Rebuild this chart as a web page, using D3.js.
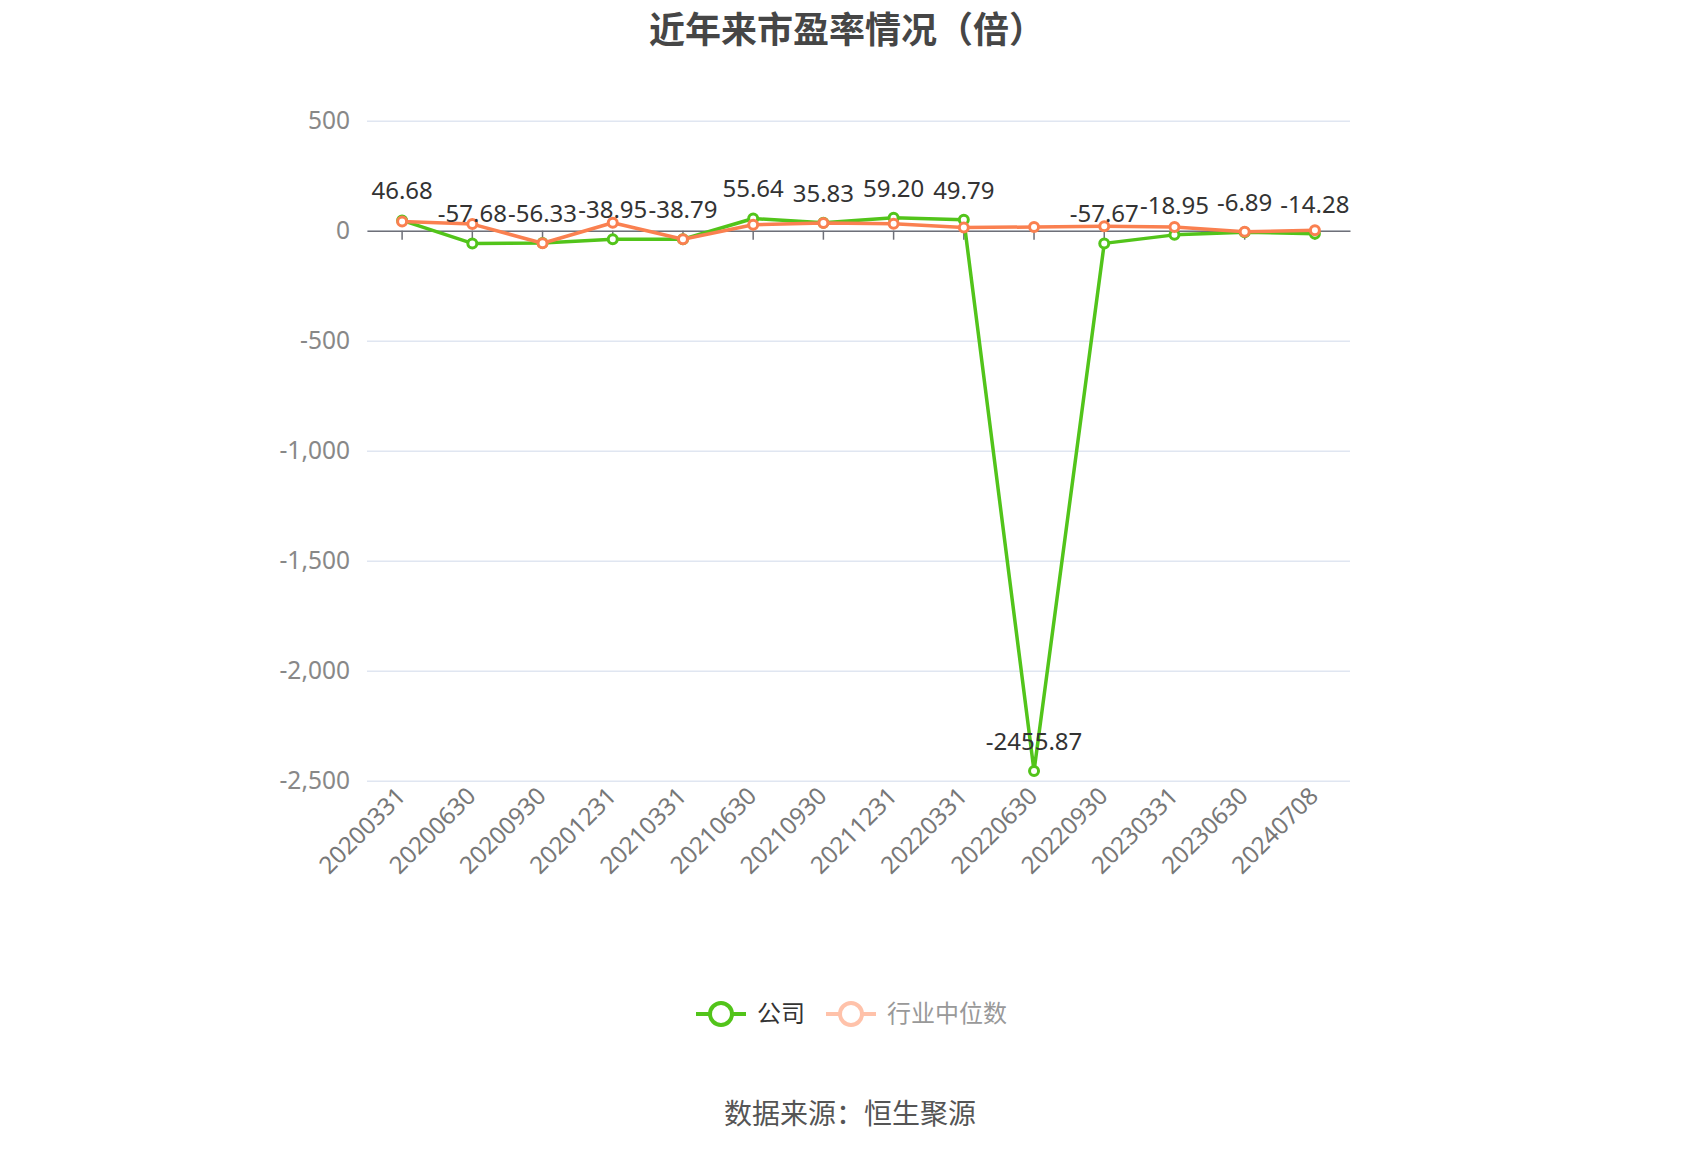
<!DOCTYPE html>
<html>
<head>
<meta charset="utf-8">
<script src="https://cdn.jsdelivr.net/npm/d3@7"></script>
<style>
  body { margin: 0; background: #fff; }
  svg { display: block; font-family: "Noto Sans CJK SC", "Noto Sans", sans-serif; }
</style>
</head>
<body>
<svg id="chart" width="1700" height="1150"></svg>
<script>
// report dates on the x axis
const dates = ["20200331", "20200630", "20200930", "20201231", "20210331", "20210630", "20210930",
  "20211231", "20220331", "20220630", "20220930", "20230331", "20230630", "20240708"];
// company P/E (labelled values)
const company = [46.68, -57.68, -56.33, -38.95, -38.79, 55.64, 35.83, 59.20, 49.79, -2455.87, -57.67, -18.95, -6.89, -14.28];
// industry median
const industry = [42, 30, -57, 36, -39, 27, 35, 32, 14, 17, 20, 17, -5, 2];
const yTicks = [500, 0, -500, -1000, -1500, -2000, -2500];
const seriesNames = ["公司", "行业中位数"];

const green = "#52c41a";
const orange = "#fa8050";

const svg = d3.select("#chart");
const plotLeft = 367, plotRight = 1350, plotTop = 120.7, plotBottom = 780.7;

const x = d3.scaleBand().domain(dates).range([plotLeft, plotRight]);
const y = d3.scaleLinear().domain([-2500, 500]).range([plotBottom, plotTop]);
const cx = d => x(d) + x.bandwidth() / 2;

const fmt = d3.formatLocale({decimal: ".", thousands: ",", grouping: [3], currency: ["", ""], minus: "-"}).format(",");

// title
svg.append("text")
  .attr("x", 847).attr("y", 43)
  .attr("text-anchor", "middle")
  .style("font-size", "36px").style("font-weight", "bold").style("fill", "#464646")
  .text("近年来市盈率情况（倍）");

// grid + y labels
const yAxis = svg.append("g")
  .attr("transform", "translate(" + plotLeft + ",0)")
  .call(d3.axisLeft(y).tickValues(yTicks).tickFormat(fmt).tickSize(-(plotRight - plotLeft)).tickPadding(17));
yAxis.select(".domain").remove();
yAxis.selectAll(".tick line").attr("stroke", "#e0e6f1").attr("stroke-width", 1.5);
yAxis.selectAll(".tick text").style("font-size", "24.5px").style("fill", "#888").style("font-family", "'Noto Sans', sans-serif");

// zero axis with ticks
const xAxis = svg.append("g")
  .attr("transform", "translate(0," + y(0) + ")")
  .call(d3.axisBottom(x).tickSize(9).tickSizeOuter(0).tickFormat(""));
xAxis.select(".domain").attr("stroke", "#6e7079").attr("stroke-width", 1.5);
xAxis.selectAll(".tick line").attr("stroke", "#6e7079").attr("stroke-width", 1.5);

// rotated category labels at the bottom
svg.append("g").selectAll("text")
  .data(dates)
  .enter()
  .append("text")
  .attr("transform", d => "translate(" + (cx(d) - 7) + "," + (plotBottom + 5) + ") rotate(-45)")
  .attr("text-anchor", "end")
  .attr("dy", "0.7em")
  .style("font-size", "24px").style("fill", "#777").style("font-family", "'Noto Sans', sans-serif")
  .text(d => d);

const line = d3.line().x((d, i) => cx(dates[i])).y(d => y(d));

function drawSeries(values, color) {
  svg.append("path")
    .datum(values)
    .attr("d", line)
    .attr("fill", "none")
    .attr("stroke", color)
    .attr("stroke-width", 3.5)
    .attr("stroke-linejoin", "round");
  svg.append("g").selectAll("circle")
    .data(values)
    .enter()
    .append("circle")
    .attr("cx", (d, i) => cx(dates[i]))
    .attr("cy", d => y(d))
    .attr("r", 4.5)
    .attr("fill", "#fff")
    .attr("stroke", color)
    .attr("stroke-width", 3);
}
drawSeries(company, green);
drawSeries(industry, orange);

// value labels for company series
svg.append("g").selectAll("text")
  .data(company)
  .enter()
  .append("text")
  .attr("x", (d, i) => cx(dates[i]))
  .attr("y", d => y(d) - 21)
  .attr("text-anchor", "middle")
  .style("font-size", "24px").style("fill", "#333").style("font-family", "'Noto Sans', sans-serif")
  .text(d => d.toFixed(2));

// legend
const legend = svg.append("g");
const legendItems = [
  {name: seriesNames[0], x: 696, color: green, text: "#333"},
  {name: seriesNames[1], x: 826, color: "#ffc2aa", text: "#999"}
];
legendItems.forEach(function (it) {
  const g = legend.append("g").attr("transform", "translate(" + it.x + ",1014)");
  g.append("line").attr("x1", 0).attr("x2", 50).attr("stroke", it.color).attr("stroke-width", 4);
  g.append("circle").attr("cx", 25).attr("r", 11).attr("fill", "#fff").attr("stroke", it.color).attr("stroke-width", 4);
  g.append("text").attr("x", 61).attr("dy", "0.35em")
    .style("font-size", "24px").style("fill", it.text)
    .text(it.name);
});

// source
svg.append("text")
  .attr("x", 850).attr("y", 1114)
  .attr("text-anchor", "middle").attr("dy", "0.35em")
  .style("font-size", "28px").style("fill", "#555")
  .text("数据来源：恒生聚源");
</script>
</body>
</html>
